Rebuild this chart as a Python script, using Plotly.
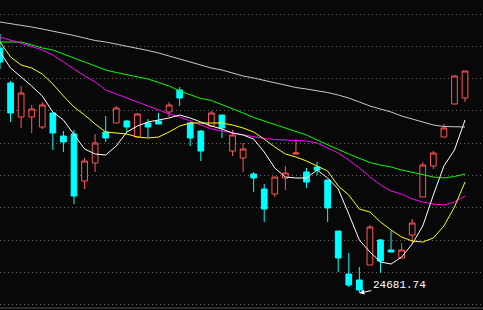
import plotly.graph_objects as go

idx = list(range(45))

opens = [27132, 26782, 26442, 26442, 26342, 26482, 26252, 26272, 25802, 25982,
         26292, 26382, 26402, 26242, 26382, 26402, 26492, 26712, 26382, 26302,
         26352, 26462, 26102, 26032, 25872, 25722, 25672, 25832, 26072, 25892,
         25942, 25812, 25302, 24872, 24812, 24962, 25212, 25112, 25032, 25262,
         25642, 25952, 26242, 26572, 26632]
closes = [26992, 26482, 26682, 26522, 26562, 26282, 26192, 25652, 26002, 26182,
          26232, 26532, 26342, 26472, 26342, 26372, 26562, 26632, 26232, 26102,
          26482, 26332, 26262, 26122, 25832, 25522, 25842, 25882, 26082, 25792,
          25912, 25532, 25032, 24762, 24712, 25342, 25002, 25092, 25112, 25382,
          25962, 26082, 26332, 26852, 26902]
highs = [27272, 26802, 26752, 26562, 26592, 26482, 26302, 26312, 26032, 26272,
         26452, 26552, 26412, 26482, 26422, 26482, 26592, 26742, 26392, 26312,
         26502, 26462, 26312, 26182, 25892, 25772, 25842, 25952, 26222, 25932,
         25992, 25812, 25302, 25082, 24942, 25362, 25222, 25302, 25182, 25422,
         25992, 26102, 26372, 26862, 26902]
lows = [26922, 26392, 26332, 26282, 26322, 26112, 26092, 25572, 25722, 25892,
        26192, 26382, 26292, 26242, 26242, 26372, 26442, 26552, 26152, 26002,
        26342, 26232, 26052, 25892, 25692, 25392, 25642, 25712, 26072, 25732,
        25862, 25392, 24892, 24742, 24681.74, 24962, 24882, 25092, 25032, 25182,
        25642, 25922, 26242, 26572, 26592]

ma5 = [27092, 26932, 26842, 26752, 26652, 26492, 26412, 26272, 26122, 26072,
       26062, 26152, 26292, 26352, 26392, 26412, 26432, 26462, 26432, 26392,
       26352, 26322, 26282, 26262, 26222, 26092, 25932, 25842, 25832, 25832,
       25912, 25832, 25722, 25472, 25212, 25092, 24992, 24972, 25042, 25172,
       25352, 25662, 25952, 26112, 26412]
ma10 = [27192, 27042, 26962, 26932, 26872, 26772, 26652, 26542, 26462, 26372,
        26292, 26282, 26272, 26242, 26232, 26242, 26292, 26352, 26382, 26382,
        26382, 26382, 26362, 26332, 26292, 26222, 26142, 26072, 26042, 26002,
        25952, 25902, 25752, 25662, 25522, 25492, 25392, 25312, 25242, 25202,
        25192, 25232, 25352, 25542, 25792]
ma20 = [27242, 27212, 27182, 27147, 27112, 27062, 26992, 26922, 26852, 26792,
        26712, 26672, 26632, 26592, 26552, 26512, 26472, 26442, 26402, 26362,
        26322, 26302, 26282, 26262, 26242, 26227, 26217, 26212, 26212, 26202,
        26182, 26132, 26082, 26012, 25932, 25842, 25762, 25702, 25672, 25622,
        25592, 25572, 25562, 25592, 25652]
ma30 = [27192, 27192, 27192, 27162, 27132, 27112, 27072, 27032, 26987, 26952,
        26912, 26887, 26867, 26847, 26822, 26787, 26752, 26702, 26662, 26627,
        26607, 26567, 26527, 26482, 26437, 26402, 26362, 26327, 26297, 26262,
        26212, 26162, 26117, 26072, 26027, 25987, 25962, 25942, 25912, 25887,
        25862, 25842, 25832, 25847, 25872]
ma60 = [27392, 27377, 27362, 27342, 27322, 27302, 27282, 27257, 27232, 27207,
        27192, 27172, 27152, 27132, 27107, 27082, 27052, 27022, 26992, 26962,
        26932, 26912, 26882, 26852, 26832, 26807, 26787, 26762, 26737, 26722,
        26707, 26687, 26662, 26632, 26592, 26552, 26522, 26492, 26452, 26422,
        26392, 26362, 26347, 26342, 26342]

low_label = "24681.74"
BG = "#080808"

fig = go.Figure()
fig.add_trace(go.Candlestick(
    x=idx, open=opens, high=highs, low=lows, close=closes,
    increasing=dict(line=dict(color="#ff5555", width=1), fillcolor=BG),
    decreasing=dict(line=dict(color="#00ffff", width=1), fillcolor="#00ffff"),
    whiskerwidth=0, hoverinfo="skip", showlegend=False,
))
for vals, col in [(ma60, "#c8c8c8"), (ma30, "#00ff00"), (ma20, "#ff00ff"),
                  (ma10, "#ffff00"), (ma5, "#ffffff")]:
    fig.add_trace(go.Scatter(x=idx, y=vals, mode="lines",
                             line=dict(color=col, width=1),
                             hoverinfo="skip", showlegend=False))

fig.add_annotation(x=34, y=24681.74, text=low_label, showarrow=True,
                   ax=40, ay=-8, arrowhead=2, arrowsize=1, arrowwidth=1,
                   arrowcolor="#ffffff",
                   font=dict(family="Liberation Mono", size=11, color="#ffffff"))

fig.add_shape(type="line", xref="paper", yref="paper", x0=0, x1=1,
              y0=0.0065, y1=0.0065, line=dict(color="#555555", width=1))

fig.update_layout(
    width=483, height=310,
    margin=dict(l=0, r=0, t=0, b=0),
    paper_bgcolor=BG, plot_bgcolor=BG,
    boxgap=0.46, boxgroupgap=0,
    xaxis=dict(range=[0, 45.7], showgrid=False, zeroline=False,
               showticklabels=False, rangeslider=dict(visible=False),
               showline=False, ticks=""),
    yaxis=dict(range=[24512, 27612], showgrid=True, gridcolor="#6a6a6a",
               griddash="1px,3px", gridwidth=1, tick0=24888, dtick=323,
               zeroline=False, showticklabels=False, showline=False, ticks=""),
)

fig.write_html("out.html")
